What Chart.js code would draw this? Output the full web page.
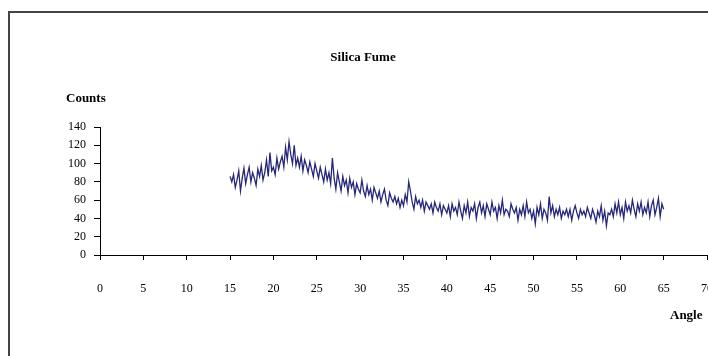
<!DOCTYPE html>
<html>
<head>
<meta charset="utf-8">
<script src="https://cdn.jsdelivr.net/npm/chart.js@4/dist/chart.umd.min.js"></script>
<style>
  html, body { margin: 0; padding: 0; background: #fff; overflow: hidden; }
  canvas { display: block; }
</style>
</head>
<body>
<canvas id="xrdChart" width="730" height="356"></canvas>
<script>
// Silica Fume XRD scan, counts every 0.2 degrees
const startAngle = 15;
const stepAngle = 0.2;
const counts = [
  86, 80, 88, 74, 82,    92, 70, 84, 95, 78,    88, 96, 80, 90, 84,
  76, 94, 86, 98, 82,    90, 104, 86, 112, 92,  96, 88, 106, 94, 102,
  108, 96, 118, 104, 124, 110, 100, 120, 98, 106, 96, 108, 92, 104, 98,
  90, 102, 94, 86, 100,  92, 84, 96, 88, 80,    94, 82, 90, 78, 106,
  84, 72, 90, 80, 70,    86, 76, 82, 68, 84,    74, 80, 66, 78, 72,
  68, 82, 70, 64, 76,    66, 72, 60, 74, 68,    62, 70, 58, 66, 72,
  60, 54, 68, 62, 58,    64, 56, 62, 52, 60,    54, 66, 58, 80, 70,
  58, 50, 64, 56, 60,    52, 60, 48, 58, 54,    50, 56, 46, 58, 52,
  48, 56, 44, 54, 50,    46, 54, 42, 56, 48,    52, 44, 58, 48, 40,
  54, 46, 58, 42, 52,    48, 56, 40, 52, 58,    46, 54, 42, 56, 50,
  44, 58, 48, 52, 40,    54, 46, 60, 44, 50,    48, 42, 56, 50, 46,
  52, 38, 50, 44, 54,    42, 58, 46, 50, 40,    48, 34, 52, 44, 56,
  40, 50, 46, 38, 64,    46, 54, 42, 50, 44,    52, 40, 48, 44, 50,
  42, 50, 38, 48, 54,    46, 40, 50, 44, 48,    42, 52, 46, 40, 50,
  44, 36, 48, 42, 54,    38, 48, 32, 46, 44,    50, 42, 56, 46, 58,
  44, 52, 40, 58, 48,    54, 46, 60, 50, 42,    56, 48, 58, 44, 52,
  46, 58, 42, 54, 60,    44, 52, 62, 42, 56,    50
];
const xTicks = [0, 5, 10, 15, 20, 25, 30, 35, 40, 45, 50, 55, 60, 65, 70];
const yTicks = [0, 20, 40, 60, 80, 100, 120, 140];

const points = counts.map((c, i) => ({ x: startAngle + i * stepAngle, y: c }));

const serif = '"Liberation Serif", "Times New Roman", serif';

// frame and free-standing labels, like the old spreadsheet chart
const decorations = {
  id: 'decorations',
  afterDraw(chart) {
    const ctx = chart.ctx;
    ctx.save();
    ctx.strokeStyle = '#444';
    ctx.lineWidth = 2;
    ctx.beginPath();
    ctx.moveTo(9, 356);
    ctx.lineTo(9, 12);
    ctx.lineTo(730, 12);
    ctx.stroke();

    ctx.fillStyle = '#000';
    ctx.textBaseline = 'middle';
    ctx.font = 'bold 13px ' + serif;
    ctx.textAlign = 'center';
    ctx.fillText('Silica Fume', 363, 58);
    ctx.textAlign = 'left';
    ctx.fillText('Counts', 66, 99);
    ctx.fillText('Angle', 670, 316);
    ctx.restore();
  }
};

new Chart(document.getElementById('xrdChart'), {
  type: 'scatter',
  data: {
    datasets: [{
      label: 'Silica Fume',
      data: points,
      showLine: true,
      borderColor: '#27277a',
      borderWidth: 1.3,
      pointRadius: 0,
      tension: 0
    }]
  },
  options: {
    responsive: false,
    animation: false,
    layout: { padding: { top: 127, right: 23, left: 0, bottom: 0 } },
    plugins: {
      legend: { display: false },
      tooltip: { enabled: false }
    },
    scales: {
      x: {
        type: 'linear',
        min: 0,
        max: 70,
        afterFit: (scale) => {
          scale.height = 101;
          // let the "70" label run off the edge like the original
          scale.paddingRight = 0;
        },
        afterBuildTicks: (scale) => { scale.ticks = xTicks.map(v => ({ value: v })); },
        ticks: {
          color: '#000',
          font: { family: serif, size: 12 },
          padding: 22,
          maxRotation: 0
        },
        grid: { drawOnChartArea: false, drawTicks: true, tickLength: 5, color: '#000' },
        border: { color: '#000', width: 1 }
      },
      y: {
        min: 0,
        max: 140,
        afterFit: (scale) => { scale.width = 100; },
        afterBuildTicks: (scale) => { scale.ticks = yTicks.map(v => ({ value: v })); },
        ticks: {
          color: '#000',
          font: { family: serif, size: 12 },
          padding: 8
        },
        grid: { drawOnChartArea: false, drawTicks: true, tickLength: 6, color: '#000' },
        border: { color: '#000', width: 1 }
      }
    }
  },
  plugins: [decorations]
});
</script>
</body>
</html>
